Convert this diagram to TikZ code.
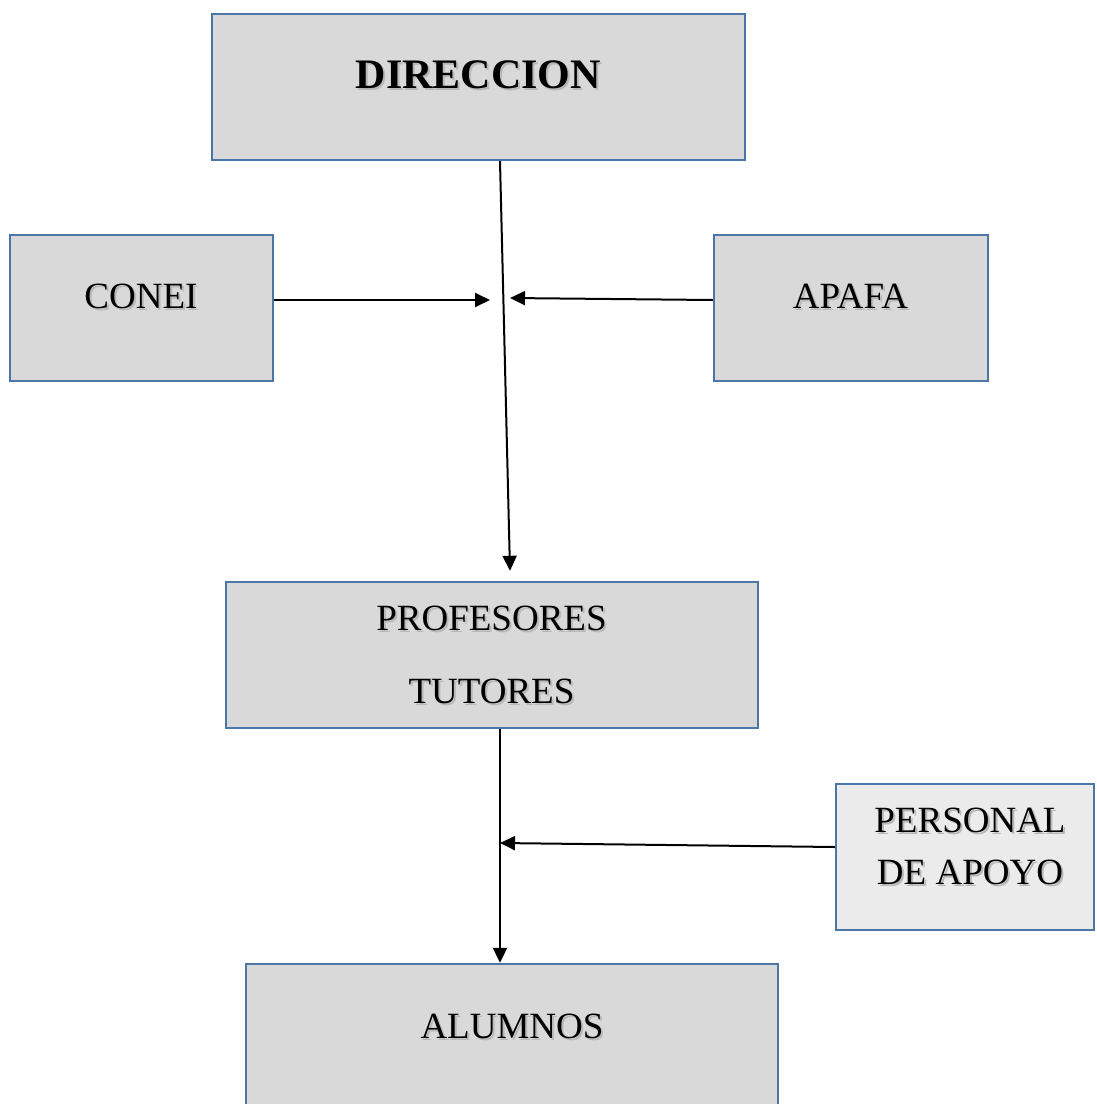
\documentclass[tikz,border=0pt]{standalone}
\usepackage{fontspec}
\setmainfont{Liberation Serif}
\usetikzlibrary{arrows.meta}
\definecolor{boxfill}{HTML}{D9D9D9}
\definecolor{boxfillb}{HTML}{EBEBEB}
\definecolor{boxline}{HTML}{4A76A8}
\tikzset{
  box/.style={draw=boxline, fill=boxfill, line width=2.4pt, inner sep=0pt},
  lab/.style={anchor=base, inner sep=0pt, font=\fontsize{37}{40}\selectfont},
  labb/.style={anchor=base, inner sep=0pt, font=\fontsize{42}{46}\selectfont\bfseries},
  shd/.style={text=black!28},
  conn/.style={line width=2pt, -{Triangle[length=15pt,width=14pt]}},
}
\begin{document}
\begin{tikzpicture}[x=1pt,y=-1pt]
\useasboundingbox (0,0) rectangle (1096,1104);
\begin{scope}
\clip (0,0) rectangle (1096,1104);
\node[box, minimum width=533, minimum height=146] (dir) at (478.5,87) {};
\node[box, minimum width=263, minimum height=146] (conei) at (141.5,308) {};
\node[box, minimum width=274, minimum height=146] (apafa) at (851,308) {};
\node[box, minimum width=532, minimum height=146] (prof) at (492,655) {};
\node[box, fill=boxfillb, minimum width=258, minimum height=146] (pers) at (965,857) {};
\node[box, minimum width=532, minimum height=146] (alum) at (512,1037) {};
\end{scope}
% texts with shadows
\node[labb, shd] (dirs) at (480.5,90) {DIRECCION};
\node[labb] (dirt) at (478.5,88) {DIRECCION};
\node[lab, shd] (coneis) at (143,310) {CONEI};
\node[lab] (coneit) at (141,308) {CONEI};
\node[lab, shd] (apafas) at (852.5,310) {APAFA};
\node[lab] (apafat) at (850.5,308) {APAFA};
\node[lab, shd] (prof1s) at (493.5,632) {PROFESORES};
\node[lab] (prof1t) at (491.5,630) {PROFESORES};
\node[lab, shd] (prof2s) at (493.5,705) {TUTORES};
\node[lab] (prof2t) at (491.5,703) {TUTORES};
\node[lab, shd] (pers1s) at (972,834) {PERSONAL};
\node[lab] (pers1t) at (970,832) {PERSONAL};
\node[lab, shd] (pers2s) at (972,886) {DE APOYO};
\node[lab] (pers2t) at (970,884) {DE APOYO};
\node[lab, shd] (alums) at (514,1040) {ALUMNOS};
\node[lab] (alumt) at (512,1038) {ALUMNOS};
% connectors
\coordinate (mc) at (490,300);
\coordinate (ma) at (510,298);
\coordinate (mp) at (500,843);
\draw[conn] ([xshift=21.5pt]dir.south) -- ([xshift=18pt,yshift=10pt]prof.north);
\draw[conn] ([yshift=8pt]conei.east) -- (mc);
\draw[conn] ([yshift=8pt]apafa.west) -- (ma);
\draw[conn] ([xshift=8pt]prof.south) -- ([xshift=-12pt]alum.north);
\draw[conn] ([yshift=10pt]pers.west) -- (mp);
\end{tikzpicture}
\end{document}
